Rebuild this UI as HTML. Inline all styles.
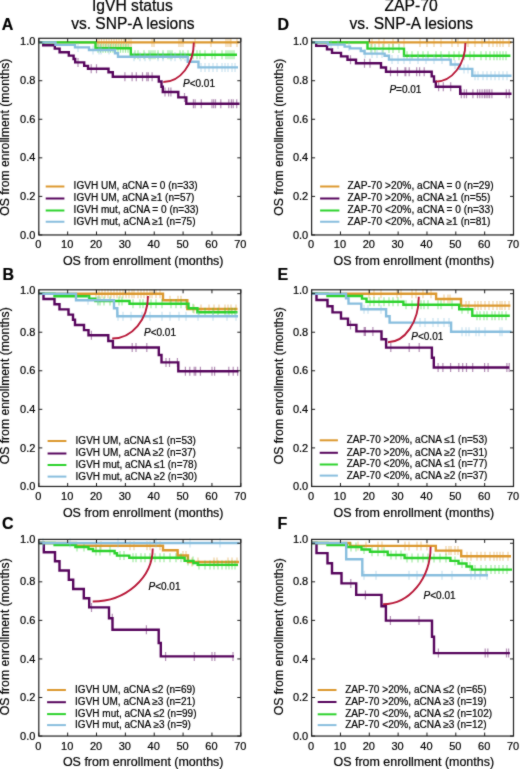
<!DOCTYPE html><html><head><meta charset="utf-8"><style>html,body{margin:0;padding:0;background:#fff;}svg{display:block;will-change:transform;}text{font-family:"Liberation Sans",sans-serif;fill:#000000;stroke:#000000;stroke-width:0.2px;}</style></head><body>
<svg width="520" height="769" viewBox="0 0 520 769">
<defs><filter id="bl" x="0" y="0" width="520" height="769" filterUnits="userSpaceOnUse" color-interpolation-filters="sRGB"><feConvolveMatrix order="3" kernelMatrix="1 2 1 2 20 2 1 2 1" divisor="32" edgeMode="duplicate" preserveAlpha="false"/></filter></defs>
<rect width="520" height="769" fill="#fff"/>
<g filter="url(#bl)"><rect width="520" height="769" fill="#fff"/>
<text x="132.4" y="11.2" font-size="16" text-anchor="middle" textLength="81" lengthAdjust="spacingAndGlyphs">IgVH status</text>
<text x="132.9" y="28.8" font-size="16" text-anchor="middle" textLength="123.5" lengthAdjust="spacingAndGlyphs">vs. SNP-A lesions</text>
<text x="411.1" y="11.3" font-size="16" text-anchor="middle" textLength="53.3" lengthAdjust="spacingAndGlyphs">ZAP-70</text>
<text x="411.3" y="28.6" font-size="16" text-anchor="middle" textLength="123.6" lengthAdjust="spacingAndGlyphs">vs. SNP-A lesions</text>
<text x="1.8" y="30.2" font-size="16" font-weight="bold">A</text>
<path d="M97,37.9v9M99,37.9v9M101.5,37.9v9M104,37.9v9M106.5,37.9v9M109,37.9v9M111.5,37.9v9M114,37.9v9M116.5,37.9v9M119,37.9v9M121.5,37.9v9M124,37.9v9M126.5,37.9v9M129,37.9v9M131,37.9v9M152,37.9v9M154,37.9v9M179,37.9v9M181,37.9v9M183,37.9v9M195,37.9v9M211,37.9v9M226,37.9v9M228,37.9v9M230,37.9v9M231,37.9v9M237,37.9v9" stroke="#DC982E" stroke-width="1.2" fill="none" opacity="0.45"/>
<path d="M38.8,42.4H239.5" stroke="#DC982E" stroke-width="2.4" fill="none" stroke-linejoin="miter" stroke-linecap="butt"/>
<path d="M78,57.9v9M91.2,64.3v9M96.5,64.3v9M124.9,72.3v9M132.1,72.3v9M136.3,72.3v9M142.5,72.3v9M146.8,72.3v9M148.3,72.3v9M152.1,72.3v9M165,87.5v9M168.6,87.5v9M170.9,87.5v9M184.5,92.9v9M193.4,99.2v9M195.1,99.2v9M201.3,99.2v9M212,99.2v9M213.7,99.2v9M215.5,99.2v9M220.8,99.2v9M228.8,99.2v9M231.4,99.2v9M233.2,99.2v9M236.7,99.2v9" stroke="#56045C" stroke-width="1.2" fill="none" opacity="0.45"/>
<path d="M38.8,42.4H43.2V45.2H54.8V48.6H59.6V52.2H68.8V55.6H73.6V59H75.2V62.4H84.2V65.9H88V68.8H108.5V72.2H112.8V76.8H158.8V81.5H161.5V86.8H162.8V92H178.3V97.4H186.3V103.7H239.5" stroke="#56045C" stroke-width="2.4" fill="none" stroke-linejoin="miter" stroke-linecap="butt"/>
<path d="M98,43.7v9M100.5,43.7v9M103,43.7v9M105.5,43.7v9M108,43.7v9M110.5,43.7v9M113,43.7v9M115.5,43.7v9M118,43.7v9M120.5,43.7v9M123,43.7v9M125.5,43.7v9M128,43.7v9M135,50.3v9M138,50.3v9M144,50.3v9M149,50.3v9M151,50.3v9M153,50.3v9M155,50.3v9M158,50.3v9M163,50.3v9M168,50.3v9M170,50.3v9M172,50.3v9M180,50.3v9M183,50.3v9M188,50.3v9M193,50.3v9M197,50.3v9M200,50.3v9M205,50.3v9M212,50.3v9M215,50.3v9M222,50.3v9M226,50.3v9M228,50.3v9M230,50.3v9M232,50.3v9M234,50.3v9" stroke="#2CD22C" stroke-width="1.2" fill="none" opacity="0.45"/>
<path d="M38.8,42.4H95.5V48.2H130.8V54.8H237" stroke="#2CD22C" stroke-width="2.4" fill="none" stroke-linejoin="miter" stroke-linecap="butt"/>
<path d="M78,42.9v9M93,45.5v9M99,45.5v9M101,45.5v9M109,45.5v9M134,52.3v9M140,52.3v9M145,52.3v9M150,52.3v9M158,52.3v9M163,52.3v9M171,52.3v9M175,52.3v9M181,52.3v9M185,52.3v9M201,62.9v9M205,62.9v9M209,62.9v9M213,62.9v9M217,62.9v9M222,62.9v9M225,62.9v9M228,62.9v9M232,62.9v9M235,62.9v9" stroke="#88BEDE" stroke-width="1.2" fill="none" opacity="0.45"/>
<path d="M38.8,42.4H55.5V44.9H75V47.4H89V50H115V53.3H118V56.8H187.7V61.8H198.5V67.4H238" stroke="#88BEDE" stroke-width="2.4" fill="none" stroke-linejoin="miter" stroke-linecap="butt"/>
<path d="M163.3,82A30.5,39.4 0 0 0 193.8,42.6" stroke="#B81838" stroke-width="1.9" fill="none"/>
<text x="183" y="86.9" font-size="10"><tspan font-style="italic">P</tspan>&lt;0.01</text>
<rect x="38.8" y="38.3" width="202" height="196.66" fill="none" stroke="#1e1e1e" stroke-width="1.2"/>
<path d="M38.8,234.96h3.5M240.8,234.96h-3.5M38.8,196.4h3.5M240.8,196.4h-3.5M38.8,157.84h3.5M240.8,157.84h-3.5M38.8,119.28h3.5M240.8,119.28h-3.5M38.8,80.72h3.5M240.8,80.72h-3.5M38.8,42.16h3.5M240.8,42.16h-3.5M38.8,234.96v-3.5M38.8,38.3v3.5M67.66,234.96v-3.5M67.66,38.3v3.5M96.51,234.96v-3.5M96.51,38.3v3.5M125.37,234.96v-3.5M125.37,38.3v3.5M154.23,234.96v-3.5M154.23,38.3v3.5M183.09,234.96v-3.5M183.09,38.3v3.5M211.94,234.96v-3.5M211.94,38.3v3.5M240.8,234.96v-3.5M240.8,38.3v3.5" stroke="#1e1e1e" stroke-width="1" fill="none"/>
<text x="35.4" y="238.56" font-size="11" text-anchor="end">0.0</text>
<text x="35.4" y="200" font-size="11" text-anchor="end">0.2</text>
<text x="35.4" y="161.44" font-size="11" text-anchor="end">0.4</text>
<text x="35.4" y="122.88" font-size="11" text-anchor="end">0.6</text>
<text x="35.4" y="84.32" font-size="11" text-anchor="end">0.8</text>
<text x="35.4" y="45.06" font-size="11" text-anchor="end">1.0</text>
<text x="38.3" y="248.06" font-size="11" text-anchor="middle">0</text>
<text x="67.16" y="248.06" font-size="11" text-anchor="middle">10</text>
<text x="96.01" y="248.06" font-size="11" text-anchor="middle">20</text>
<text x="124.87" y="248.06" font-size="11" text-anchor="middle">30</text>
<text x="153.73" y="248.06" font-size="11" text-anchor="middle">40</text>
<text x="182.59" y="248.06" font-size="11" text-anchor="middle">50</text>
<text x="211.44" y="248.06" font-size="11" text-anchor="middle">60</text>
<text x="240.3" y="248.06" font-size="11" text-anchor="middle">70</text>
<text x="143.2" y="265.46" font-size="12.3" text-anchor="middle" textLength="160.5" lengthAdjust="spacingAndGlyphs">OS from enrollment (months)</text>
<text transform="translate(9.3,137.2) rotate(-90)" x="0" y="0" font-size="12" text-anchor="middle" textLength="157" lengthAdjust="spacingAndGlyphs">OS from enrollment (months)</text>
<path d="M45.7,186.5H64.4" stroke="#DC982E" stroke-width="2"/>
<text x="73.6" y="189.4" font-size="10" textLength="124" lengthAdjust="spacingAndGlyphs">IGVH UM, aCNA = 0 (n=33)</text>
<path d="M45.7,198.5H64.4" stroke="#56045C" stroke-width="2"/>
<text x="73.6" y="201.4" font-size="10" textLength="120.85" lengthAdjust="spacingAndGlyphs">IGVH UM, aCNA ≥1 (n=57)</text>
<path d="M45.7,210.5H64.4" stroke="#2CD22C" stroke-width="2"/>
<text x="73.6" y="213.4" font-size="10" textLength="125.12" lengthAdjust="spacingAndGlyphs">IGVH mut, aCNA = 0 (n=33)</text>
<path d="M45.7,221.75H64.4" stroke="#88BEDE" stroke-width="2"/>
<text x="73.6" y="224.65" font-size="10" textLength="121.97" lengthAdjust="spacingAndGlyphs">IGVH mut, aCNA ≥1 (n=75)</text>
<text x="2.6" y="279.6" font-size="16" font-weight="bold">B</text>
<path d="M96,289.3v9M99,289.3v9M102,289.3v9M105,289.3v9M108,289.3v9M111,289.3v9M114,289.3v9M117,289.3v9M120,289.3v9M123,289.3v9M126,289.3v9M129,289.3v9M132,289.3v9M134,289.3v9M138,289.3v9M141,289.3v9M144,289.3v9M147,289.3v9M150,289.3v9M152,289.3v9M156,289.3v9M160,289.3v9M170,295.7v9M178,295.7v9M181,295.7v9M194,304.5v9M201,304.5v9M209,304.5v9M214,304.5v9M219,304.5v9M225,304.5v9M228,304.5v9M231,304.5v9M236,304.5v9" stroke="#DC982E" stroke-width="1.2" fill="none" opacity="0.45"/>
<path d="M38.8,293.8H163V300.2H187.3V309H237.5" stroke="#DC982E" stroke-width="2.4" fill="none" stroke-linejoin="miter" stroke-linecap="butt"/>
<path d="M91.4,330.8v9M132.2,343v9M136,343v9M146.8,343v9M166,357.9v9M169.5,357.9v9M177.4,357.9v9M185.4,366.8v9M189.8,366.8v9M194.2,366.8v9M195.7,366.8v9M200.4,366.8v9M212,366.8v9M214.6,366.8v9M228.8,366.8v9M233.2,366.8v9M237.6,366.8v9" stroke="#56045C" stroke-width="1.2" fill="none" opacity="0.45"/>
<path d="M38.8,293.8H43.5V299H54.5V304.2H59.5V309.4H68.5V314.6H73V319.8H75V325H84V330.1H88.5V335.3H108.3V341H112.9V347.5H158.8V355H161.5V362.4H178.3V371.3H238.5" stroke="#56045C" stroke-width="2.4" fill="none" stroke-linejoin="miter" stroke-linecap="butt"/>
<path d="M98,296.5v9M100,296.5v9M104,296.5v9M110,296.5v9M119,296.5v9M122,296.5v9M133,299.3v9M140,299.3v9M143,299.3v9M151,299.3v9M156,299.3v9M162,299.3v9M171,299.3v9M176,299.3v9M181,299.3v9M186,299.3v9M193,303.8v9M199,307.7v9M205,307.7v9M213,307.7v9M218,307.7v9M225,307.7v9M229,307.7v9M232,307.7v9M235,307.7v9" stroke="#2CD22C" stroke-width="1.2" fill="none" opacity="0.45"/>
<path d="M38.8,293.8H54.5V296.3H89.2V298.6H95.4V301H129.5V303.8H188.5V308.3H197.4V312.2H237.5" stroke="#2CD22C" stroke-width="2.4" fill="none" stroke-linejoin="miter" stroke-linecap="butt"/>
<path d="M88,295.8v9M98,295.8v9M118,311.7v9M123,311.7v9M131,311.7v9M142,311.7v9M150,311.7v9M162,311.7v9M170,311.7v9M179,311.7v9M186,311.7v9M198,311.7v9M213,311.7v9M227,311.7v9M236,311.7v9" stroke="#88BEDE" stroke-width="1.2" fill="none" opacity="0.45"/>
<path d="M38.8,293.8H76V300.3H114V308.3H117.3V316.2H238" stroke="#88BEDE" stroke-width="2.4" fill="none" stroke-linejoin="miter" stroke-linecap="butt"/>
<path d="M112.2,338.5A35.8,42.5 0 0 0 148,296" stroke="#B81838" stroke-width="1.9" fill="none"/>
<text x="144" y="336.3" font-size="10"><tspan font-style="italic">P</tspan>&lt;0.01</text>
<rect x="38.8" y="289.8" width="202" height="196.66" fill="none" stroke="#1e1e1e" stroke-width="1.2"/>
<path d="M38.8,486.46h3.5M240.8,486.46h-3.5M38.8,447.9h3.5M240.8,447.9h-3.5M38.8,409.34h3.5M240.8,409.34h-3.5M38.8,370.78h3.5M240.8,370.78h-3.5M38.8,332.22h3.5M240.8,332.22h-3.5M38.8,293.66h3.5M240.8,293.66h-3.5M38.8,486.46v-3.5M38.8,289.8v3.5M67.66,486.46v-3.5M67.66,289.8v3.5M96.51,486.46v-3.5M96.51,289.8v3.5M125.37,486.46v-3.5M125.37,289.8v3.5M154.23,486.46v-3.5M154.23,289.8v3.5M183.09,486.46v-3.5M183.09,289.8v3.5M211.94,486.46v-3.5M211.94,289.8v3.5M240.8,486.46v-3.5M240.8,289.8v3.5" stroke="#1e1e1e" stroke-width="1" fill="none"/>
<text x="35.4" y="490.06" font-size="11" text-anchor="end">0.0</text>
<text x="35.4" y="451.5" font-size="11" text-anchor="end">0.2</text>
<text x="35.4" y="412.94" font-size="11" text-anchor="end">0.4</text>
<text x="35.4" y="374.38" font-size="11" text-anchor="end">0.6</text>
<text x="35.4" y="335.82" font-size="11" text-anchor="end">0.8</text>
<text x="35.4" y="294.46" font-size="11" text-anchor="end">1.0</text>
<text x="38.3" y="499.76" font-size="11" text-anchor="middle">0</text>
<text x="67.16" y="499.76" font-size="11" text-anchor="middle">10</text>
<text x="96.01" y="499.76" font-size="11" text-anchor="middle">20</text>
<text x="124.87" y="499.76" font-size="11" text-anchor="middle">30</text>
<text x="153.73" y="499.76" font-size="11" text-anchor="middle">40</text>
<text x="182.59" y="499.76" font-size="11" text-anchor="middle">50</text>
<text x="211.44" y="499.76" font-size="11" text-anchor="middle">60</text>
<text x="240.3" y="499.76" font-size="11" text-anchor="middle">70</text>
<text x="143.2" y="516.96" font-size="12.3" text-anchor="middle" textLength="160.5" lengthAdjust="spacingAndGlyphs">OS from enrollment (months)</text>
<text transform="translate(9.3,385.8) rotate(-90)" x="0" y="0" font-size="12" text-anchor="middle" textLength="157" lengthAdjust="spacingAndGlyphs">OS from enrollment (months)</text>
<path d="M47.6,441H66.4" stroke="#DC982E" stroke-width="2"/>
<text x="75.6" y="443.9" font-size="10" textLength="120.25" lengthAdjust="spacingAndGlyphs">IGVH UM, aCNA ≤1 (n=53)</text>
<path d="M47.6,453.5H66.4" stroke="#56045C" stroke-width="2"/>
<text x="75.6" y="456.4" font-size="10" textLength="120.25" lengthAdjust="spacingAndGlyphs">IGVH UM, aCNA ≥2 (n=37)</text>
<path d="M47.6,465H66.4" stroke="#2CD22C" stroke-width="2"/>
<text x="75.6" y="467.9" font-size="10" textLength="121.37" lengthAdjust="spacingAndGlyphs">IGVH mut, aCNA ≤1 (n=78)</text>
<path d="M47.6,476.6H66.4" stroke="#88BEDE" stroke-width="2"/>
<text x="75.6" y="479.5" font-size="10" textLength="121.37" lengthAdjust="spacingAndGlyphs">IGVH mut, aCNA ≥2 (n=30)</text>
<text x="1.9" y="528.6" font-size="16" font-weight="bold">C</text>
<path d="M96,541.3v9M101,541.3v9M130,541.3v9M134,541.3v9M147,541.3v9M150,541.3v9M160,541.3v9M178,551v9M183,551v9M186,551v9M192,557.5v9M198,557.5v9M214,557.5v9M217,557.5v9M228,557.5v9M232,557.5v9M237,557.5v9" stroke="#DC982E" stroke-width="1.2" fill="none" opacity="0.45"/>
<path d="M38.8,543H76V545.8H163V550.3H177.6V555.5H188V562H239" stroke="#DC982E" stroke-width="2.4" fill="none" stroke-linejoin="miter" stroke-linecap="butt"/>
<path d="M91.5,602.9v9M112.3,613.8v9M146.4,625.2v9M165.6,651.9v9M194.3,651.9v9M212,651.9v9M214.8,651.9v9M233,651.9v9" stroke="#56045C" stroke-width="1.2" fill="none" opacity="0.45"/>
<path d="M38.8,543H43.8V552.2H55V561.3H59.5V570.5H68.8V579.7H73.2V589H83.8V598.3H89.2V607.4H109V618.3H112.5V629.7H158.7V643H160.8V656.4H234" stroke="#56045C" stroke-width="2.4" fill="none" stroke-linejoin="miter" stroke-linecap="butt"/>
<path d="M77,542.5v9M84,542.5v9M96,546.5v9M100,546.5v9M110,546.5v9M120,551.1v9M124,551.1v9M133,553.2v9M136,553.2v9M141,553.2v9M145,553.2v9M150,553.2v9M155,553.2v9M160,553.2v9M164,553.2v9M170,553.2v9M176,553.2v9M181,553.2v9M188,556.4v9M193,556.4v9M199,560.4v9M205,560.4v9M210,560.4v9M214,560.4v9M218,560.4v9M222,560.4v9M226,560.4v9M229,560.4v9M232,560.4v9M235,560.4v9" stroke="#2CD22C" stroke-width="1.2" fill="none" opacity="0.45"/>
<path d="M38.8,543H54.6V545H75.4V547H88.5V549H93V551H114.6V553.3H117V555.6H129.3V557.7H184.6V560.9H193.5V563H197.7V564.9H238" stroke="#2CD22C" stroke-width="2.4" fill="none" stroke-linejoin="miter" stroke-linecap="butt"/>
<path d="M43,538.5v9M70,538.5v9M118,538.5v9M156,538.5v9M190,538.5v9M220,538.5v9" stroke="#88BEDE" stroke-width="1.2" fill="none" opacity="0.45"/>
<path d="M38.8,543H239.5" stroke="#88BEDE" stroke-width="2.4" fill="none" stroke-linejoin="miter" stroke-linecap="butt"/>
<path d="M92.7,601.5A60,53 0 0 0 152.7,548.5" stroke="#B81838" stroke-width="1.9" fill="none"/>
<text x="148.5" y="589.6" font-size="10"><tspan font-style="italic">P</tspan>&lt;0.01</text>
<rect x="38.8" y="539.4" width="202" height="196.66" fill="none" stroke="#1e1e1e" stroke-width="1.2"/>
<path d="M38.8,736.06h3.5M240.8,736.06h-3.5M38.8,697.5h3.5M240.8,697.5h-3.5M38.8,658.94h3.5M240.8,658.94h-3.5M38.8,620.38h3.5M240.8,620.38h-3.5M38.8,581.82h3.5M240.8,581.82h-3.5M38.8,543.26h3.5M240.8,543.26h-3.5M38.8,736.06v-3.5M38.8,539.4v3.5M67.66,736.06v-3.5M67.66,539.4v3.5M96.51,736.06v-3.5M96.51,539.4v3.5M125.37,736.06v-3.5M125.37,539.4v3.5M154.23,736.06v-3.5M154.23,539.4v3.5M183.09,736.06v-3.5M183.09,539.4v3.5M211.94,736.06v-3.5M211.94,539.4v3.5M240.8,736.06v-3.5M240.8,539.4v3.5" stroke="#1e1e1e" stroke-width="1" fill="none"/>
<text x="35.4" y="739.66" font-size="11" text-anchor="end">0.0</text>
<text x="35.4" y="701.1" font-size="11" text-anchor="end">0.2</text>
<text x="35.4" y="662.54" font-size="11" text-anchor="end">0.4</text>
<text x="35.4" y="623.98" font-size="11" text-anchor="end">0.6</text>
<text x="35.4" y="585.42" font-size="11" text-anchor="end">0.8</text>
<text x="35.4" y="543.36" font-size="11" text-anchor="end">1.0</text>
<text x="38.3" y="749.66" font-size="11" text-anchor="middle">0</text>
<text x="67.16" y="749.66" font-size="11" text-anchor="middle">10</text>
<text x="96.01" y="749.66" font-size="11" text-anchor="middle">20</text>
<text x="124.87" y="749.66" font-size="11" text-anchor="middle">30</text>
<text x="153.73" y="749.66" font-size="11" text-anchor="middle">40</text>
<text x="182.59" y="749.66" font-size="11" text-anchor="middle">50</text>
<text x="211.44" y="749.66" font-size="11" text-anchor="middle">60</text>
<text x="240.3" y="749.66" font-size="11" text-anchor="middle">70</text>
<text x="143.2" y="765.86" font-size="12.3" text-anchor="middle" textLength="160.5" lengthAdjust="spacingAndGlyphs">OS from enrollment (months)</text>
<text transform="translate(9.3,636.8) rotate(-90)" x="0" y="0" font-size="12" text-anchor="middle" textLength="157" lengthAdjust="spacingAndGlyphs">OS from enrollment (months)</text>
<path d="M47.1,690H65.9" stroke="#DC982E" stroke-width="2"/>
<text x="75.1" y="692.9" font-size="10" textLength="120.25" lengthAdjust="spacingAndGlyphs">IGVH UM, aCNA ≤2 (n=69)</text>
<path d="M47.1,702.2H65.9" stroke="#56045C" stroke-width="2"/>
<text x="75.1" y="705.1" font-size="10" textLength="120.25" lengthAdjust="spacingAndGlyphs">IGVH UM, aCNA ≥3 (n=21)</text>
<path d="M47.1,714.1H65.9" stroke="#2CD22C" stroke-width="2"/>
<text x="75.1" y="717" font-size="10" textLength="121.37" lengthAdjust="spacingAndGlyphs">IGVH mut, aCNA ≤2 (n=99)</text>
<path d="M47.1,725.1H65.9" stroke="#88BEDE" stroke-width="2"/>
<text x="75.1" y="728" font-size="10" textLength="115.81" lengthAdjust="spacingAndGlyphs">IGVH mut, aCNA ≥3 (n=9)</text>
<text x="277.6" y="30.2" font-size="16" font-weight="bold">D</text>
<path d="M372,37.9v9M379,37.9v9M384,37.9v9M393,37.9v9M404,37.9v9M420,37.9v9M427,37.9v9M434,37.9v9M441,37.9v9M452,37.9v9M458,37.9v9M468,37.9v9M475,37.9v9M482,37.9v9M489,37.9v9M493,37.9v9M497,37.9v9M500,37.9v9M503,37.9v9M509,37.9v9" stroke="#DC982E" stroke-width="1.2" fill="none" opacity="0.45"/>
<path d="M311.6,42.4H511.5" stroke="#DC982E" stroke-width="2.4" fill="none" stroke-linejoin="miter" stroke-linecap="butt"/>
<path d="M350.5,55.3v9M364.5,58.8v9M370,58.8v9M390.5,67.3v9M397.5,67.3v9M405,67.3v9M405.8,67.3v9M409.2,67.3v9M416.7,67.3v9M419.6,67.3v9M424.2,67.3v9M438.6,82.2v9M443.3,82.2v9M450.7,82.2v9M461.3,89.2v9M464.2,89.2v9M466.5,89.2v9M472.9,89.2v9M477.5,89.2v9M479.8,89.2v9M482.1,89.2v9M484.4,89.2v9M486.1,89.2v9M487.9,89.2v9M489.6,89.2v9M491.9,89.2v9M506.3,89.2v9M509.2,89.2v9" stroke="#56045C" stroke-width="1.2" fill="none" opacity="0.45"/>
<path d="M311.6,42.4H316.2V45.9H327V49.4H332V52.9H341V56.4H347.5V59.8H356V63.3H381V67.5H386V71.8H431.7V76.4H434V81.6H435.8V86.7H460.2V93.7H511.5" stroke="#56045C" stroke-width="2.4" fill="none" stroke-linejoin="miter" stroke-linecap="butt"/>
<path d="M371,44.1v9M375,44.1v9M383,44.1v9M389,44.1v9M393,44.1v9M399,44.1v9M407,51.2v9M412,51.2v9M418,51.2v9M423,51.2v9M428,51.2v9M436,51.2v9M441,51.2v9M449,51.2v9M454,51.2v9M459,51.2v9M464,51.2v9M470,51.2v9M474,51.2v9M481,51.2v9M486,51.2v9M490,51.2v9M494,51.2v9M497,51.2v9M500,51.2v9M503,51.2v9M506,51.2v9" stroke="#2CD22C" stroke-width="1.2" fill="none" opacity="0.45"/>
<path d="M311.6,42.4H367.5V48.6H404V55.7H510.4" stroke="#2CD22C" stroke-width="2.4" fill="none" stroke-linejoin="miter" stroke-linecap="butt"/>
<path d="M331,40.1v9M338,40.1v9M349,42.1v9M365,49.1v9M372,49.1v9M377,49.1v9M382,49.1v9M392,55.1v9M398,55.1v9M404,55.1v9M410,55.1v9M418,55.1v9M426,55.1v9M434,55.1v9M442,55.1v9M455,60v9M464,64.4v9M468,64.4v9M475,71.3v9M478,71.3v9M483,71.3v9M487,71.3v9M491,71.3v9M495,71.3v9M499,71.3v9M503,71.3v9M507,71.3v9" stroke="#88BEDE" stroke-width="1.2" fill="none" opacity="0.45"/>
<path d="M311.6,42.4H328V44.6H344.6V46.6H350V48.4H360.8V51H364.5V53.6H384.6V55.8H389V59.6H450.7V64.5H459.6V68.9H472.3V75.8H511.5" stroke="#88BEDE" stroke-width="2.4" fill="none" stroke-linejoin="miter" stroke-linecap="butt"/>
<path d="M435.8,81.6A29.6,38.6 0 0 0 465.4,43" stroke="#B81838" stroke-width="1.9" fill="none"/>
<text x="389.4" y="92.5" font-size="10"><tspan font-style="italic">P</tspan>=0.01</text>
<rect x="311.6" y="38.3" width="201.9" height="196.66" fill="none" stroke="#1e1e1e" stroke-width="1.2"/>
<path d="M311.6,234.96h3.5M513.5,234.96h-3.5M311.6,196.4h3.5M513.5,196.4h-3.5M311.6,157.84h3.5M513.5,157.84h-3.5M311.6,119.28h3.5M513.5,119.28h-3.5M311.6,80.72h3.5M513.5,80.72h-3.5M311.6,42.16h3.5M513.5,42.16h-3.5M311.6,234.96v-3.5M311.6,38.3v3.5M340.44,234.96v-3.5M340.44,38.3v3.5M369.29,234.96v-3.5M369.29,38.3v3.5M398.13,234.96v-3.5M398.13,38.3v3.5M426.97,234.96v-3.5M426.97,38.3v3.5M455.81,234.96v-3.5M455.81,38.3v3.5M484.66,234.96v-3.5M484.66,38.3v3.5M513.5,234.96v-3.5M513.5,38.3v3.5" stroke="#1e1e1e" stroke-width="1" fill="none"/>
<text x="308.2" y="238.56" font-size="11" text-anchor="end">0.0</text>
<text x="308.2" y="200" font-size="11" text-anchor="end">0.2</text>
<text x="308.2" y="161.44" font-size="11" text-anchor="end">0.4</text>
<text x="308.2" y="122.88" font-size="11" text-anchor="end">0.6</text>
<text x="308.2" y="84.32" font-size="11" text-anchor="end">0.8</text>
<text x="308.2" y="45.36" font-size="11" text-anchor="end">1.0</text>
<text x="311.1" y="248.06" font-size="11" text-anchor="middle">0</text>
<text x="339.94" y="248.06" font-size="11" text-anchor="middle">10</text>
<text x="368.79" y="248.06" font-size="11" text-anchor="middle">20</text>
<text x="397.63" y="248.06" font-size="11" text-anchor="middle">30</text>
<text x="426.47" y="248.06" font-size="11" text-anchor="middle">40</text>
<text x="455.31" y="248.06" font-size="11" text-anchor="middle">50</text>
<text x="484.16" y="248.06" font-size="11" text-anchor="middle">60</text>
<text x="513" y="248.06" font-size="11" text-anchor="middle">70</text>
<text x="413.8" y="265.46" font-size="12.3" text-anchor="middle" textLength="160.5" lengthAdjust="spacingAndGlyphs">OS from enrollment (months)</text>
<text transform="translate(283,137.2) rotate(-90)" x="0" y="0" font-size="12" text-anchor="middle" textLength="157" lengthAdjust="spacingAndGlyphs">OS from enrollment (months)</text>
<path d="M320.1,186.5H339.4" stroke="#DC982E" stroke-width="2"/>
<text x="347.6" y="189.4" font-size="10" textLength="146" lengthAdjust="spacingAndGlyphs">ZAP-70 &gt;20%, aCNA = 0 (n=29)</text>
<path d="M320.1,198.5H339.4" stroke="#56045C" stroke-width="2"/>
<text x="347.6" y="201.4" font-size="10" textLength="142.81" lengthAdjust="spacingAndGlyphs">ZAP-70 &gt;20%, aCNA ≥1 (n=55)</text>
<path d="M320.1,210.5H339.4" stroke="#2CD22C" stroke-width="2"/>
<text x="347.6" y="213.4" font-size="10" textLength="146" lengthAdjust="spacingAndGlyphs">ZAP-70 &lt;20%, aCNA = 0 (n=33)</text>
<path d="M320.1,221.75H339.4" stroke="#88BEDE" stroke-width="2"/>
<text x="347.6" y="224.65" font-size="10" textLength="142.81" lengthAdjust="spacingAndGlyphs">ZAP-70 &lt;20%, aCNA ≥1 (n=81)</text>
<text x="277.4" y="279.6" font-size="16" font-weight="bold">E</text>
<path d="M369,289.3v9M374,289.3v9M381,289.3v9M397,289.3v9M401,289.3v9M412,289.3v9M416,289.3v9M423,289.3v9M431,289.3v9M444,294.5v9M448,294.5v9M450,294.5v9M466,301.1v9M469,301.1v9M475,301.1v9M478,301.1v9M481,301.1v9M485,301.1v9M489,301.1v9M493,301.1v9M497,301.1v9M500,301.1v9M502,301.1v9M505,301.1v9M509,301.1v9" stroke="#DC982E" stroke-width="1.2" fill="none" opacity="0.45"/>
<path d="M311.6,293.8H436.1V299H461V305.6H510.4" stroke="#DC982E" stroke-width="2.4" fill="none" stroke-linejoin="miter" stroke-linecap="butt"/>
<path d="M350.5,320.4v9M364.2,326.9v9M365.4,326.9v9M372.9,326.9v9M390.8,343.1v9M409.2,343.1v9M419.2,343.1v9M438.1,363v9M442.9,363v9M450.6,363v9M458.8,363v9M462.7,363v9M466.5,363v9M472.7,363v9M484.6,363v9M488.1,363v9M506.9,363v9M509.2,363v9" stroke="#56045C" stroke-width="1.2" fill="none" opacity="0.45"/>
<path d="M311.6,293.8H316.5V300H327.5V306.2H332.5V312.4H341V318.6H348V324.9H356.4V331.4H381.5V339.3H386.1V347.6H431.9V357.7H433.8V367.5H509.2" stroke="#56045C" stroke-width="2.4" fill="none" stroke-linejoin="miter" stroke-linecap="butt"/>
<path d="M370,297.3v9M374,297.3v9M379,297.3v9M384,297.3v9M389,297.3v9M393,297.3v9M398,297.3v9M406,300.2v9M412,300.2v9M418,300.2v9M421,300.2v9M424,300.2v9M428,300.2v9M438,300.2v9M441,300.2v9M452,300.2v9M462,304.8v9M468,304.8v9M477,311.2v9M480,311.2v9M484,311.2v9M487,311.2v9M492,311.2v9M495,311.2v9M499,311.2v9M502,311.2v9M506,311.2v9" stroke="#2CD22C" stroke-width="1.2" fill="none" opacity="0.45"/>
<path d="M311.6,293.8H327.5V296H362V298.6H366.5V301.8H403.4V304.7H459.2V309.3H472.3V315.7H509.8" stroke="#2CD22C" stroke-width="2.4" fill="none" stroke-linejoin="miter" stroke-linecap="butt"/>
<path d="M364,304.8v9M368,304.8v9M381,304.8v9M420,318.1v9M425,318.1v9M433,318.1v9M438,318.1v9M444,318.1v9M449,318.1v9M462,327.3v9M466,327.3v9M469,327.3v9M476,327.3v9M479,327.3v9M485,327.3v9M500,327.3v9M502,327.3v9" stroke="#88BEDE" stroke-width="1.2" fill="none" opacity="0.45"/>
<path d="M311.6,293.8H346V298.2H348.5V303.6H361.3V309.3H386.1V316.3H389.6V322.6H451.1V331.8H511.5" stroke="#88BEDE" stroke-width="2.4" fill="none" stroke-linejoin="miter" stroke-linecap="butt"/>
<path d="M387.9,342.2A30.9,45.5 0 0 0 418.8,296.7" stroke="#B81838" stroke-width="1.9" fill="none"/>
<text x="411.3" y="340.1" font-size="10"><tspan font-style="italic">P</tspan>&lt;0.01</text>
<rect x="311.6" y="289.8" width="201.9" height="196.66" fill="none" stroke="#1e1e1e" stroke-width="1.2"/>
<path d="M311.6,486.46h3.5M513.5,486.46h-3.5M311.6,447.9h3.5M513.5,447.9h-3.5M311.6,409.34h3.5M513.5,409.34h-3.5M311.6,370.78h3.5M513.5,370.78h-3.5M311.6,332.22h3.5M513.5,332.22h-3.5M311.6,293.66h3.5M513.5,293.66h-3.5M311.6,486.46v-3.5M311.6,289.8v3.5M340.44,486.46v-3.5M340.44,289.8v3.5M369.29,486.46v-3.5M369.29,289.8v3.5M398.13,486.46v-3.5M398.13,289.8v3.5M426.97,486.46v-3.5M426.97,289.8v3.5M455.81,486.46v-3.5M455.81,289.8v3.5M484.66,486.46v-3.5M484.66,289.8v3.5M513.5,486.46v-3.5M513.5,289.8v3.5" stroke="#1e1e1e" stroke-width="1" fill="none"/>
<text x="308.2" y="490.06" font-size="11" text-anchor="end">0.0</text>
<text x="308.2" y="451.5" font-size="11" text-anchor="end">0.2</text>
<text x="308.2" y="412.94" font-size="11" text-anchor="end">0.4</text>
<text x="308.2" y="374.38" font-size="11" text-anchor="end">0.6</text>
<text x="308.2" y="335.82" font-size="11" text-anchor="end">0.8</text>
<text x="308.2" y="294.46" font-size="11" text-anchor="end">1.0</text>
<text x="311.1" y="499.76" font-size="11" text-anchor="middle">0</text>
<text x="339.94" y="499.76" font-size="11" text-anchor="middle">10</text>
<text x="368.79" y="499.76" font-size="11" text-anchor="middle">20</text>
<text x="397.63" y="499.76" font-size="11" text-anchor="middle">30</text>
<text x="426.47" y="499.76" font-size="11" text-anchor="middle">40</text>
<text x="455.31" y="499.76" font-size="11" text-anchor="middle">50</text>
<text x="484.16" y="499.76" font-size="11" text-anchor="middle">60</text>
<text x="513" y="499.76" font-size="11" text-anchor="middle">70</text>
<text x="413.8" y="516.96" font-size="12.3" text-anchor="middle" textLength="160.5" lengthAdjust="spacingAndGlyphs">OS from enrollment (months)</text>
<text transform="translate(283,385.8) rotate(-90)" x="0" y="0" font-size="12" text-anchor="middle" textLength="157" lengthAdjust="spacingAndGlyphs">OS from enrollment (months)</text>
<path d="M319.7,440.3H337.9" stroke="#DC982E" stroke-width="2"/>
<text x="346.7" y="443.2" font-size="10" textLength="140.71" lengthAdjust="spacingAndGlyphs">ZAP-70 &gt;20%, aCNA ≤1 (n=53)</text>
<path d="M319.7,452.8H337.9" stroke="#56045C" stroke-width="2"/>
<text x="346.7" y="455.7" font-size="10" textLength="140.71" lengthAdjust="spacingAndGlyphs">ZAP-70 &gt;20%, aCNA ≥2 (n=31)</text>
<path d="M319.7,464.5H337.9" stroke="#2CD22C" stroke-width="2"/>
<text x="346.7" y="467.4" font-size="10" textLength="140.71" lengthAdjust="spacingAndGlyphs">ZAP-70 &lt;20%, aCNA ≤1 (n=77)</text>
<path d="M319.7,475.6H337.9" stroke="#88BEDE" stroke-width="2"/>
<text x="346.7" y="478.5" font-size="10" textLength="140.71" lengthAdjust="spacingAndGlyphs">ZAP-70 &lt;20%, aCNA ≥2 (n=37)</text>
<text x="277.6" y="528.8" font-size="16" font-weight="bold">F</text>
<path d="M358,541.4v9M366,541.4v9M378,541.4v9M382,541.4v9M405,541.4v9M409,541.4v9M417,541.4v9M421,541.4v9M427,541.4v9M446,546.1v9M449,546.1v9M451,546.1v9M455,546.1v9M458,546.1v9M467,551.7v9M471,551.7v9M477,551.7v9M481,551.7v9M485,551.7v9M490,551.7v9M494,551.7v9M497,551.7v9M500,551.7v9M503,551.7v9M508,551.7v9" stroke="#DC982E" stroke-width="1.2" fill="none" opacity="0.45"/>
<path d="M311.6,543H350V545.9H435.8V550.6H461.2V556.2H511" stroke="#DC982E" stroke-width="2.4" fill="none" stroke-linejoin="miter" stroke-linecap="butt"/>
<path d="M350.8,578.9v9M365.4,590.4v9M390.4,616.1v9M419,616.1v9M438.4,648.6v9M485.2,648.6v9M487.8,648.6v9M506.5,648.6v9M508.6,648.6v9" stroke="#56045C" stroke-width="1.2" fill="none" opacity="0.45"/>
<path d="M311.6,543H316.5V553.1H327.5V563.2H332V573.3H341.5V583.4H356.2V594.9H381.5V606.3H385.9V620.6H432V636.8H434V653.1H509.9" stroke="#56045C" stroke-width="2.4" fill="none" stroke-linejoin="miter" stroke-linecap="butt"/>
<path d="M351,542.5v9M356,542.5v9M364,545v9M372,547.3v9M378,547.3v9M384,547.3v9M391,550.5v9M396,550.5v9M401,550.5v9M407,553.5v9M412,553.5v9M418,553.5v9M423,553.5v9M428,553.5v9M434,553.5v9M440,553.5v9M446,553.5v9M455,556.4v9M462,559v9M470,562v9M475,565.1v9M481,565.1v9M486,565.1v9M491,565.1v9M495,565.1v9M499,565.1v9M503,565.1v9M507,565.1v9" stroke="#2CD22C" stroke-width="1.2" fill="none" opacity="0.45"/>
<path d="M311.6,543H327.5V545H347V547H361.5V549.5H370V551.8H387.7V555H404.6V558H450.4V560.9H458.5V563.5H466.5V566.5H472V569.6H512" stroke="#2CD22C" stroke-width="2.4" fill="none" stroke-linejoin="miter" stroke-linecap="butt"/>
<path d="M364,570.7v9M376,570.7v9M409,570.7v9M417,570.7v9M442,570.7v9M452,570.7v9M471,570.7v9M475,570.7v9M480,570.7v9M487,570.7v9" stroke="#88BEDE" stroke-width="1.2" fill="none" opacity="0.45"/>
<path d="M311.6,543H346.2V559.3H362.3V575.2H488" stroke="#88BEDE" stroke-width="2.4" fill="none" stroke-linejoin="miter" stroke-linecap="butt"/>
<path d="M383.1,604.2A47.5,57.5 0 0 0 430.6,546.7" stroke="#B81838" stroke-width="1.9" fill="none"/>
<text x="423.6" y="599.1" font-size="10"><tspan font-style="italic">P</tspan>&lt;0.01</text>
<rect x="311.6" y="539.4" width="201.9" height="196.66" fill="none" stroke="#1e1e1e" stroke-width="1.2"/>
<path d="M311.6,736.06h3.5M513.5,736.06h-3.5M311.6,697.5h3.5M513.5,697.5h-3.5M311.6,658.94h3.5M513.5,658.94h-3.5M311.6,620.38h3.5M513.5,620.38h-3.5M311.6,581.82h3.5M513.5,581.82h-3.5M311.6,543.26h3.5M513.5,543.26h-3.5M311.6,736.06v-3.5M311.6,539.4v3.5M340.44,736.06v-3.5M340.44,539.4v3.5M369.29,736.06v-3.5M369.29,539.4v3.5M398.13,736.06v-3.5M398.13,539.4v3.5M426.97,736.06v-3.5M426.97,539.4v3.5M455.81,736.06v-3.5M455.81,539.4v3.5M484.66,736.06v-3.5M484.66,539.4v3.5M513.5,736.06v-3.5M513.5,539.4v3.5" stroke="#1e1e1e" stroke-width="1" fill="none"/>
<text x="308.2" y="739.66" font-size="11" text-anchor="end">0.0</text>
<text x="308.2" y="701.1" font-size="11" text-anchor="end">0.2</text>
<text x="308.2" y="662.54" font-size="11" text-anchor="end">0.4</text>
<text x="308.2" y="623.98" font-size="11" text-anchor="end">0.6</text>
<text x="308.2" y="585.42" font-size="11" text-anchor="end">0.8</text>
<text x="308.2" y="542.86" font-size="11" text-anchor="end">1.0</text>
<text x="311.1" y="749.66" font-size="11" text-anchor="middle">0</text>
<text x="339.94" y="749.66" font-size="11" text-anchor="middle">10</text>
<text x="368.79" y="749.66" font-size="11" text-anchor="middle">20</text>
<text x="397.63" y="749.66" font-size="11" text-anchor="middle">30</text>
<text x="426.47" y="749.66" font-size="11" text-anchor="middle">40</text>
<text x="455.31" y="749.66" font-size="11" text-anchor="middle">50</text>
<text x="484.16" y="749.66" font-size="11" text-anchor="middle">60</text>
<text x="513" y="749.66" font-size="11" text-anchor="middle">70</text>
<text x="413.8" y="765.86" font-size="12.3" text-anchor="middle" textLength="160.5" lengthAdjust="spacingAndGlyphs">OS from enrollment (months)</text>
<text transform="translate(283,636.8) rotate(-90)" x="0" y="0" font-size="12" text-anchor="middle" textLength="157" lengthAdjust="spacingAndGlyphs">OS from enrollment (months)</text>
<path d="M317.7,690H336.5" stroke="#DC982E" stroke-width="2"/>
<text x="345.2" y="692.9" font-size="10" textLength="141.41" lengthAdjust="spacingAndGlyphs">ZAP-70 &gt;20%, aCNA ≤2 (n=65)</text>
<path d="M317.7,702H336.5" stroke="#56045C" stroke-width="2"/>
<text x="345.2" y="704.9" font-size="10" textLength="141.41" lengthAdjust="spacingAndGlyphs">ZAP-70 &gt;20%, aCNA ≥3 (n=19)</text>
<path d="M317.7,714.3H336.5" stroke="#2CD22C" stroke-width="2"/>
<text x="345.2" y="717.2" font-size="10" textLength="147.02" lengthAdjust="spacingAndGlyphs">ZAP-70 &lt;20%, aCNA ≤2 (n=102)</text>
<path d="M317.7,725.1H336.5" stroke="#88BEDE" stroke-width="2"/>
<text x="345.2" y="728" font-size="10" textLength="141.41" lengthAdjust="spacingAndGlyphs">ZAP-70 &lt;20%, aCNA ≥3 (n=12)</text>
</g></svg></body></html>
